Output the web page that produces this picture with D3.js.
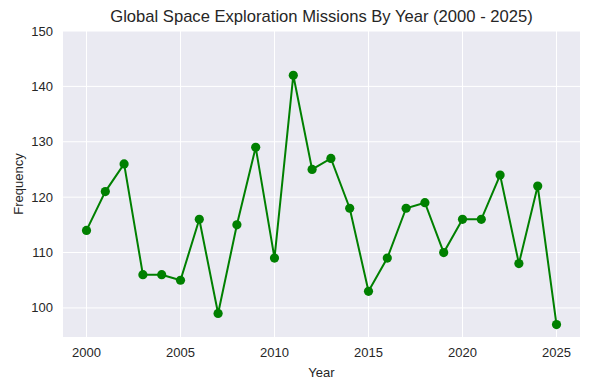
<!DOCTYPE html>
<html><head><meta charset="utf-8">
<script src="https://cdn.jsdelivr.net/npm/d3@7"></script>
<style>body{margin:0;background:#fff}svg{display:block}text{font-family:"Liberation Sans",Arial,sans-serif;fill:#262626}</style>
</head><body>
<script>
const years = [2000,2001,2002,2003,2004,2005,2006,2007,2008,2009,2010,2011,2012,2013,2014,2015,2016,2017,2018,2019,2020,2021,2022,2023,2024,2025];
const missions = [114,121,126,106,106,105,116,99,115,129,109,142,125,127,118,103,109,118,119,110,116,116,124,108,122,97];
const xTicks = [2000,2005,2010,2015,2020,2025];
const yTicks = [100,110,120,130,140,150];
const title = "Global Space Exploration Missions By Year (2000 - 2025)";

const W=590,H=390, L=63, R=580, T=31, B=337;
const svg=d3.select("body").append("svg").attr("width",W).attr("height",H);
const x=d3.scaleLinear().domain([1998.75,2026.25]).range([L,R]);
const y=d3.scaleLinear().domain([94.75,150]).range([B,T]);

svg.append("rect").attr("x",L).attr("y",T).attr("width",R-L).attr("height",B-T).attr("fill","#EAEAF2");
const g=svg.append("g");
g.selectAll(".vg").data(xTicks).join("line").attr("x1",d=>x(d)).attr("x2",d=>x(d)).attr("y1",T).attr("y2",B).attr("stroke","#fff").attr("stroke-width",1);
g.selectAll(".hg").data(yTicks).join("line").attr("y1",d=>y(d)).attr("y2",d=>y(d)).attr("x1",L).attr("x2",R).attr("stroke","#fff").attr("stroke-width",1);

svg.selectAll(".xt").data(xTicks).join("text").attr("x",d=>x(d)).attr("y",357).attr("text-anchor","middle").attr("font-size",13).text(d=>d);
svg.selectAll(".yt").data(yTicks).join("text").attr("x",53).attr("y",d=>y(d)+4.5).attr("text-anchor","end").attr("font-size",13).text(d=>d);

const line=d3.line().x((d,i)=>x(years[i])).y(d=>y(d));
svg.append("path").datum(missions).attr("d",line).attr("fill","none").attr("stroke","#008000").attr("stroke-width",2);
svg.selectAll(".pt").data(missions).join("circle").attr("cx",(d,i)=>x(years[i])).attr("cy",d=>y(d)).attr("r",4.6).attr("fill","#008000");

svg.append("text").attr("x",(L+R)/2).attr("y",22).attr("text-anchor","middle").attr("font-size",16.6).text(title);
svg.append("text").attr("x",(L+R)/2).attr("y",377).attr("text-anchor","middle").attr("font-size",13).text("Year");
svg.append("text").attr("transform",`translate(23,${(T+B)/2}) rotate(-90)`).attr("text-anchor","middle").attr("font-size",13).text("Frequency");
</script>
</body></html>
